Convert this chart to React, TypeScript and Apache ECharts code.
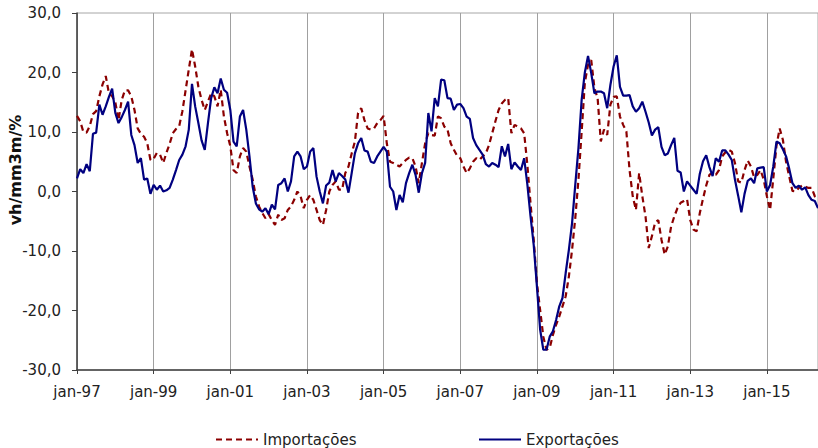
import React, { useEffect, useRef } from 'react';
import * as echarts from 'echarts';

// meses (pt) e início da série
const MONTHS = ['jan', 'fev', 'mar', 'abr', 'mai', 'jun', 'jul', 'ago', 'set', 'out', 'nov', 'dez'];
const START_YEAR = 1997;

const importacoes = [
  12.7, 11.8, 10.0, 9.9, 11.0, 13.0, 13.5, 16.0, 18.0, 19.4, 16.5, 16.0,
  15.0, 12.0, 15.4, 17.0, 17.0, 16.0, 13.7, 10.6, 9.7, 9.2, 8.1, 5.3,
  5.5, 6.5, 6.2, 4.8, 6.5, 8.0, 9.8, 10.5, 11.0, 13.5, 17.0, 20.5,
  23.9, 21.0, 17.6, 15.4, 13.7, 15.1, 16.5, 16.0, 14.3, 17.1, 12.6, 9.8,
  7.6, 3.6, 3.1, 5.9, 7.3, 6.7, 4.2, 2.0, -0.8, -2.5, -3.6, -4.5,
  -3.8, -4.8, -5.6, -3.9, -4.8, -4.5, -3.1, -2.5, -1.4, 0.0, -0.8, -2.8,
  -1.4, -0.6, -1.4, -3.1, -4.8, -5.6, -3.1, 0.0, 1.1, 1.7, 0.3, 0.3,
  3.1, 4.2, 6.4, 8.4, 13.2, 14.0, 12.0, 10.6, 10.4, 10.6, 11.5, 12.0,
  12.7, 8.1, 5.0, 4.8, 4.5, 4.2, 4.8, 5.3, 5.7, 5.6, 4.2, 1.4,
  4.8, 8.1, 9.8, 9.5, 9.4, 12.6, 12.3, 10.9, 10.4, 8.1, 7.0, 6.0,
  5.6, 4.2, 3.1, 3.9, 5.0, 5.6, 5.3, 5.9, 6.4, 7.8, 9.8, 11.8,
  13.7, 14.8, 15.4, 15.7, 9.8, 11.2, 10.9, 10.6, 9.8, 4.5, -2.0, -8.1,
  -15.4, -19.9, -24.4, -26.6, -26.3, -24.1, -22.4, -21.0, -19.3, -17.6, -14.3, -9.8,
  -4.5, 2.0, 10.0, 18.3, 21.3, 22.1, 17.4, 15.7, 8.4, 10.4, 9.5, 14.6,
  15.9, 16.0, 12.6, 11.2, 10.1, 3.6, -0.8, -3.1, 3.1, -0.8, -4.2, -9.5,
  -7.5, -5.2, -4.8, -8.1, -10.6, -9.2, -5.9, -4.2, -2.8, -1.9, -1.6, -1.3,
  -4.8, -6.4, -6.7, -3.6, -1.2, 1.0, 2.8, 3.2, 2.8, 3.6, 5.9, 6.6,
  7.0, 6.7, 4.8, 1.7, 1.5, 3.6, 5.2, 4.2, 2.4, 2.8, 3.6, 2.0,
  -0.8, -3.1, 2.2, 7.7, 10.6, 8.7, 5.0, 2.5, 0.1, 0.0, 0.6, 1.0,
  0.8, 0.6, 0.6, -0.8, -1.2,
];

const exportacoes = [
  2.2, 3.75, 3.1, 4.6, 3.4, 9.7, 9.9, 14.6, 12.9, 14.3, 15.9, 17.3,
  13.2, 11.5, 12.5, 13.7, 15.1, 9.5, 7.8, 4.8, 5.6, 2.0, 2.2, -0.4,
  1.1, 0.3, 1.0, 0.0, 0.2, 0.6, 2.0, 3.6, 5.3, 6.2, 7.6, 10.4,
  18.1, 14.3, 11.5, 8.6, 7.0, 11.5, 15.7, 17.5, 16.5, 19.0, 17.1, 16.6,
  13.7, 8.4, 7.6, 12.6, 13.7, 10.4, 5.9, 0.8, -2.0, -3.0, -3.4, -2.8,
  -3.8, -2.2, -3.0, 1.1, 1.4, 2.2, 0.0, 1.7, 5.9, 6.7, 5.9, 3.75,
  4.2, 6.7, 7.3, 2.5, 0.0, -2.0, 1.0, 1.5, 3.6, 1.7, 3.1, 2.6,
  2.0, -0.2, 3.1, 6.4, 8.1, 9.0, 6.9, 6.7, 5.0, 4.8, 5.9, 6.7,
  7.5, 6.7, 0.8, 0.0, -3.1, -0.6, -1.8, 1.4, 3.1, 4.5, 2.8, -0.2,
  3.1, 4.8, 13.2, 10.1, 15.7, 14.3, 18.8, 18.7, 15.7, 15.6, 13.7, 14.6,
  14.7, 14.0, 12.6, 12.2, 9.0, 7.8, 7.0, 6.2, 4.6, 4.2, 4.8, 4.5,
  4.1, 7.6, 5.9, 8.0, 3.75, 4.9, 4.2, 3.6, 5.6, 1.2, -4.2, -9.0,
  -16.0, -23.2, -26.6, -26.6, -24.4, -23.5, -21.6, -19.3, -17.9, -13.7, -9.8, -5.3,
  1.1, 7.3, 15.4, 20.0, 22.8, 19.9, 16.5, 16.8, 16.8, 16.5, 14.0, 17.9,
  21.0, 22.9, 17.6, 16.1, 16.1, 16.2, 14.3, 13.4, 14.0, 15.1, 13.4, 11.6,
  9.4, 10.4, 10.8, 7.5, 6.1, 6.4, 7.8, 9.0, 3.5, 3.2, 0.0, 1.7,
  1.0, 0.3, -0.4, 3.0, 5.1, 6.1, 4.1, 2.6, 5.6, 5.0, 6.9, 6.9,
  6.2, 5.3, 2.0, -0.7, -3.5, -0.4, 1.8, 2.2, 1.4, 3.9, 4.0, 4.1,
  0.0, 1.1, 4.2, 8.4, 8.1, 7.1, 5.9, 3.8, 1.4, 0.6, 1.0, 0.3,
  0.7, -0.6, -1.4, -1.6, -2.8,
];

const categories = exportacoes.map((_, i) => {
  const y = START_YEAR + Math.floor(i / 12);
  return `${MONTHS[i % 12]}-${String(y % 100).padStart(2, '0')}`;
});

const FONT = 'DejaVu Sans';

const legendBase = {
  top: 427,
  itemWidth: 42,
  itemHeight: 14,
  itemGap: 4,
  itemStyle: { opacity: 0, borderWidth: 0 },
  textStyle: { fontFamily: FONT, fontSize: 15, color: '#222' },
};

const App: React.FC = () => {
  const chartRef = useRef<HTMLDivElement>(null);

  useEffect(() => {
    if (!chartRef.current) return;
    const chart = echarts.init(chartRef.current, undefined, { renderer: 'svg' });

    const option = {
      animation: false,
      textStyle: { fontFamily: FONT },
      grid: {
        left: 77,
        right: -1,
        top: 13,
        bottom: 78,
        show: true,
        borderColor: '#a6a6a6',
        borderWidth: 1,
      },
      legend: [
        { ...legendBase, data: ['Importações'], left: 210 },
        { ...legendBase, data: ['Exportações'], left: 473 },
      ],
      xAxis: {
        type: 'category',
        data: categories,
        boundaryGap: false,
        axisLine: { onZero: false, lineStyle: { color: '#404040', width: 1.5 } },
        axisTick: { interval: 23, length: 4, lineStyle: { color: '#404040' } },
        axisLabel: {
          interval: 23,
          margin: 14,
          fontFamily: FONT,
          fontSize: 15,
          color: '#222',
        },
        splitLine: { show: true, interval: 23, lineStyle: { color: '#a0a0a0', width: 1 } },
      },
      yAxis: {
        type: 'value',
        min: -30,
        max: 30,
        interval: 10,
        axisLine: { show: true, lineStyle: { color: '#404040', width: 1.5 } },
        axisTick: { show: true, length: 5, lineStyle: { color: '#404040' } },
        axisLabel: {
          margin: 16,
          fontFamily: FONT,
          fontSize: 15,
          color: '#222',
          formatter: (v: number) => v.toFixed(1).replace('.', ','),
        },
        splitLine: { show: false },
      },
      graphic: [
        {
          type: 'text',
          x: 15,
          y: 170,
          rotation: Math.PI / 2,
          style: {
            text: 'vh/mm3m/%',
            fontFamily: FONT,
            fontSize: 16,
            fontWeight: 'bold',
            fill: '#111',
            align: 'center',
            verticalAlign: 'middle',
          },
        },
      ],
      series: [
        {
          name: 'Importações',
          type: 'line',
          data: importacoes,
          symbol: 'none',
          lineStyle: { color: '#8b0000', width: 2.2, type: [6, 4] },
          itemStyle: { color: '#8b0000' },
        },
        {
          name: 'Exportações',
          type: 'line',
          data: exportacoes,
          symbol: 'none',
          lineStyle: { color: '#000080', width: 2.2 },
          itemStyle: { color: '#000080' },
        },
      ],
    };

    chart.setOption(option);
    return () => chart.dispose();
  }, []);

  return (
    <div
      ref={chartRef}
      style={{ position: 'fixed', left: 0, top: 0, width: 818, height: 448, background: '#fff' }}
    />
  );
};

export default App;
